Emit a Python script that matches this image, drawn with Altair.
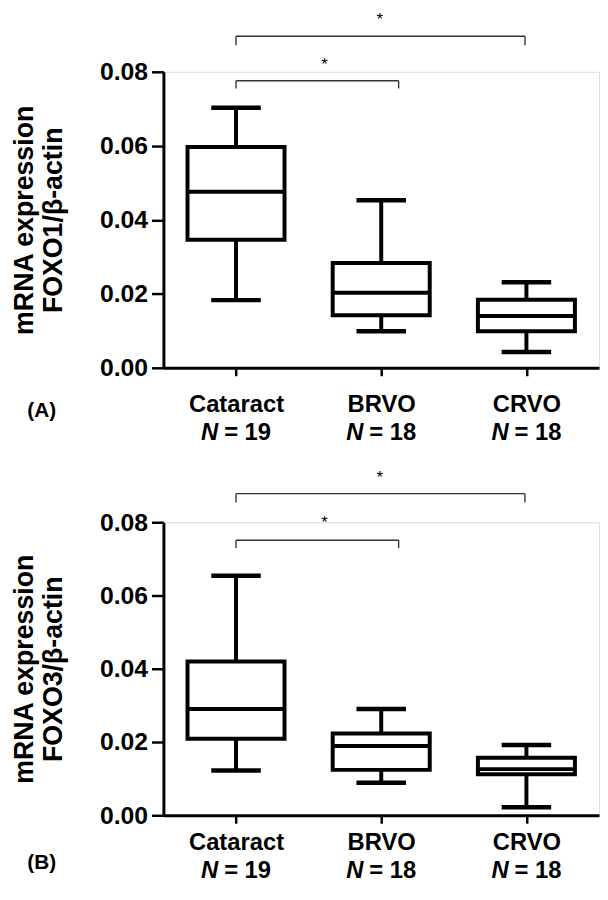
import altair as alt
import pandas as pd

FONT = "Liberation Sans"

cats = ["Cataract", "BRVO", "CRVO"]
n_sizes = [19, 18, 18]

# Panel A: FOXO1/β-actin (min, q1, median, q3, max)
a_min = [0.0183, 0.0099, 0.0043]
a_q1 = [0.0346, 0.0142, 0.0099]
a_med = [0.0476, 0.0203, 0.0140]
a_q3 = [0.0597, 0.0283, 0.0184]
a_max = [0.0703, 0.0453, 0.0231]

# Panel B: FOXO3/β-actin
b_min = [0.0122, 0.0089, 0.0022]
b_q1 = [0.0209, 0.0124, 0.0112]
b_med = [0.0290, 0.0189, 0.0126]
b_q3 = [0.0420, 0.0223, 0.0157]
b_max = [0.0654, 0.0290, 0.0192]

# significance brackets: start/end position (group index), bar level, tick end, star
a_br_x1 = [1.0, 1.0]
a_br_x2 = [2.12, 2.99]
a_br_y = [0.0776, 0.0896]
a_br_ylo = [0.0755, 0.0872]
a_star_x = [1.61, 1.99]
a_star_y = [0.0819, 0.0939]

b_br_x1 = [1.0, 1.0]
b_br_x2 = [2.12, 2.99]
b_br_y = [0.0751, 0.0878]
b_br_ylo = [0.0730, 0.0854]
b_star_x = [1.61, 1.99]
b_star_y = [0.0797, 0.0922]

yticks = [0.0, 0.02, 0.04, 0.06, 0.08]

W = 440


def panel(mins, q1s, meds, q3s, maxs, line2, bx1, bx2, by, bylo, sx, sy, tag, H,
          lab_pad, n_off, tag_off):
    df = pd.DataFrame({
        "cat": cats, "lo": mins, "q1": q1s, "med": meds, "q3": q3s, "hi": maxs,
        "nlab": [f"= {v}" for v in n_sizes], "N": ["N"] * 3,
    })
    xaxis = alt.Axis(title=None, labelAngle=0, labelFont=FONT, labelFontSize=24,
                     labelFontWeight="bold", labelPadding=lab_pad, tickSize=8,
                     tickWidth=2.5, domainWidth=3, labelColor="black", tickColor="black",
                     domainColor="black")
    xenc = alt.X("cat:N", sort=cats,
                 scale=alt.Scale(type="point", domain=cats, padding=0.5), axis=xaxis)
    yaxis = alt.Axis(values=yticks, format=".2f", title=["mRNA expression", line2],
                     titleFont=FONT, titleFontSize=27, titleFontWeight="bold",
                     titleLineHeight=30, titlePadding=32, titleColor="black",
                     labelFont=FONT, labelFontSize=25, labelFontWeight="bold",
                     labelColor="black", labelPadding=4, tickSize=12, tickWidth=2.5,
                     tickColor="black", domainWidth=3, domainColor="black", grid=False)
    yscale = alt.Scale(domain=[0, 0.08], nice=False, zero=True)

    def yq(f):
        return alt.Y(f"{f}:Q", scale=yscale, axis=yaxis)

    base = alt.Chart(df)
    whisk = base.mark_rule(strokeWidth=4, color="black").encode(x=xenc, y=yq("lo"), y2="hi:Q")
    cap_lo = base.mark_tick(size=50, thickness=4.5, color="black", opacity=1).encode(
        x=xenc, y=yq("lo"))
    cap_hi = base.mark_tick(size=50, thickness=4.5, color="black", opacity=1).encode(
        x=xenc, y=yq("hi"))
    box = base.mark_bar(size=98, fill="white", stroke="black", strokeWidth=4).encode(
        x=xenc, y=yq("q1"), y2="q3:Q")
    med = base.mark_tick(size=100, thickness=4, color="black", opacity=1).encode(
        x=xenc, y=yq("med"))
    nl = base.mark_text(font=FONT, fontSize=24, fontWeight="bold", fontStyle="italic",
                        align="right", baseline="middle", dx=-18, color="black").encode(
        x=xenc, y=alt.value(H + n_off), text="N:N")
    nr = base.mark_text(font=FONT, fontSize=24, fontWeight="bold", align="left",
                        baseline="middle", dx=-12, color="black").encode(
        x=xenc, y=alt.value(H + n_off), text="nlab:N")

    bdf = pd.DataFrame({"x1": bx1, "x2": bx2, "y": by, "ylo": bylo, "sx": sx, "sy": sy,
                        "s": ["*", "*"]})
    bxs = alt.Scale(domain=[0.5, 3.5], nice=False, zero=False)
    bb = alt.Chart(bdf)
    hbar = bb.mark_rule(strokeWidth=1.4, color="#333333").encode(
        x=alt.X("x1:Q", scale=bxs, axis=None), x2="x2:Q", y=yq("y"))
    lt = bb.mark_rule(strokeWidth=1.4, color="#333333").encode(
        x=alt.X("x1:Q", scale=bxs, axis=None), y=yq("y"), y2="ylo:Q")
    rt = bb.mark_rule(strokeWidth=1.4, color="#333333").encode(
        x=alt.X("x2:Q", scale=bxs, axis=None), y=yq("y"), y2="ylo:Q")
    star = bb.mark_text(font=FONT, fontSize=17, color="black", baseline="middle").encode(
        x=alt.X("sx:Q", scale=bxs, axis=None), y=yq("sy"), text="s:N")

    tdf = pd.DataFrame({"t": [tag]})
    tg = alt.Chart(tdf).mark_text(font=FONT, fontSize=21, fontWeight="bold",
                                  color="black", baseline="middle").encode(
        x=alt.value(-123), y=alt.value(H + tag_off), text="t:N")

    main = alt.layer(whisk, cap_lo, cap_hi, box, med, nl, nr, tg)
    brk = alt.layer(hbar, lt, rt, star)
    return alt.layer(main, brk).resolve_scale(x="independent").properties(width=W, height=H)


pA = panel(a_min, a_q1, a_med, a_q3, a_max, "FOXO1/β-actin",
           a_br_x1, a_br_x2, a_br_y, a_br_ylo, a_star_x, a_star_y, "(A)", 299,
           17, 66, 44)
pB = panel(b_min, b_q1, b_med, b_q3, b_max, "FOXO3/β-actin",
           b_br_x1, b_br_x2, b_br_y, b_br_ylo, b_star_x, b_star_y, "(B)", 296,
           8, 56, 48)

chart = alt.vconcat(pA, pB, spacing=156, bounds="flush").properties(
    padding={"left": 1, "top": -2, "right": 0, "bottom": 0}
).configure_view(stroke=None).configure(background="white")

chart.save("out.html", embed_options={"renderer": "svg", "actions": False})
